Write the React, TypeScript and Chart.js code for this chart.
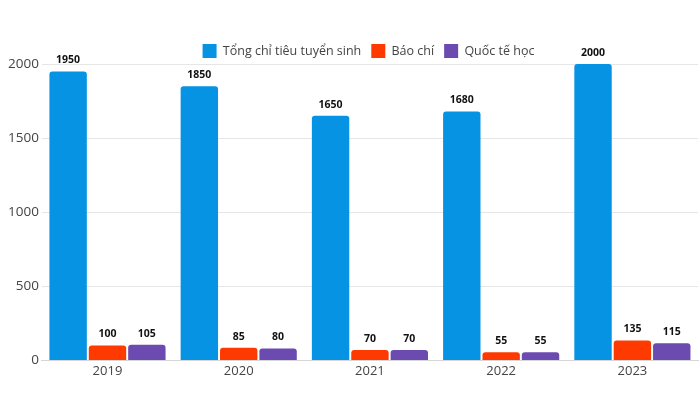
import React, { useEffect, useRef } from "react";
import { Chart, registerables } from "chart.js";

Chart.register(...registerables);

const categories = ["2019", "2020", "2021", "2022", "2023"];
const seriesNames = ["Tổng chỉ tiêu tuyển sinh", "Báo chí", "Quốc tế học"];
const tongChiTieu = [1950, 1850, 1650, 1680, 2000];
const baoChi = [100, 85, 70, 55, 135];
const quocTeHoc = [105, 80, 70, 55, 115];
const yTicks = [0, 500, 1000, 1500, 2000];

const colors = ["#0693e3", "#ff3a00", "#6b4bb0"];
const FONT = "'Open Sans', sans-serif";

const valueLabels = {
  id: "valueLabels",
  afterDatasetsDraw(chart: any) {
    const ctx = chart.ctx;
    ctx.save();
    ctx.font = `bold 10.5px ${FONT}`;
    ctx.fillStyle = "#111";
    ctx.textAlign = "center";
    ctx.textBaseline = "bottom";
    chart.data.datasets.forEach((ds: any, i: number) => {
      const meta = chart.getDatasetMeta(i);
      meta.data.forEach((bar: any, j: number) => {
        ctx.fillText(String(ds.data[j]), bar.x, bar.y - 6);
      });
    });
    ctx.restore();
  },
};

const legendShift = {
  id: "legendShift",
  afterLayout(chart: any) {
    const l = chart.legend;
    if (l) {
      l.left += 17;
      l.right += 17;
      l.top += 4;
      l.bottom += 4;
    }
  },
};

export default function App() {
  const ref = useRef<HTMLCanvasElement>(null);
  useEffect(() => {
    document.body.style.margin = "0";
    const data = [tongChiTieu, baoChi, quocTeHoc];
    const chart = new Chart(ref.current!, {
      type: "bar",
      data: {
        labels: categories,
        datasets: seriesNames.map((name, i) => ({
          label: name,
          data: data[i],
          backgroundColor: colors[i],
          borderRadius: 3,
          borderSkipped: "bottom",
          categoryPercentage: 0.9,
          barPercentage: 0.95,
        })),
      },
      options: {
        animation: false,
        responsive: false,
        maintainAspectRatio: false,
        layout: { padding: { top: 30, right: 2, bottom: 12, left: 5 } },
        plugins: {
          legend: {
            position: "top",
            labels: {
              boxWidth: 14,
              boxHeight: 14,
              padding: 10,
              color: "#444",
              font: { family: FONT, size: 12.5 },
            },
          },
          tooltip: { enabled: false },
        },
        scales: {
          x: {
            grid: { display: false, drawTicks: false },
            border: { color: "#d6d6d6" },
            ticks: { color: "#444", font: { family: FONT, size: 13 }, padding: 3 },
          },
          y: {
            min: 0,
            max: 2000,
            afterBuildTicks(axis: any) {
              axis.ticks = yTicks.map((v) => ({ value: v }));
            },
            grid: { color: "#e6e6e6", drawTicks: false },
            border: { display: false },
            ticks: {
              color: "#444",
              font: { family: FONT, size: 13.5 },
              padding: 3,
              callback: (v: any) => String(v),
            },
          },
        },
      },
      plugins: [valueLabels, legendShift],
    });
    return () => chart.destroy();
  }, []);
  return (
    <div style={{ width: 700, height: 394 }}>
      <canvas ref={ref} width={700} height={394} style={{ display: "block" }} />
    </div>
  );
}
